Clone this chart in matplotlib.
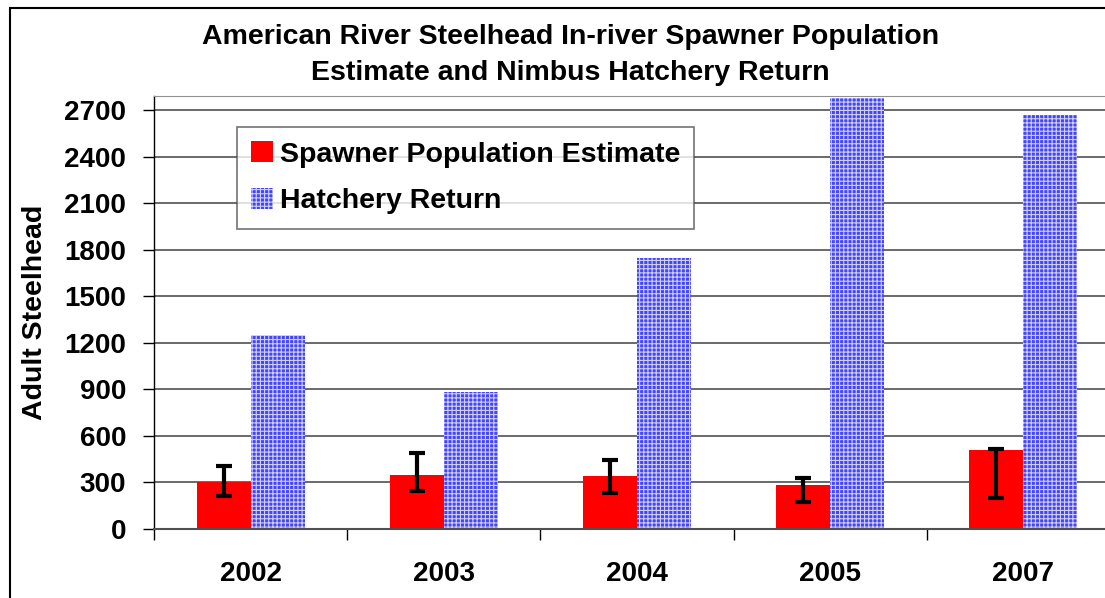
import numpy as np
import matplotlib
matplotlib.use("Agg")
import matplotlib.pyplot as plt
from matplotlib.patches import Rectangle

plt.rcParams['font.family'] = ['Liberation Sans', 'DejaVu Sans']
plt.rcParams['hatch.linewidth'] = 0.8

years = ["2002", "2003", "2004", "2005", "2007"]
spawner = [300, 345, 340, 283, 510]
spawner_low = [212, 244, 231, 174, 199]
spawner_high = [405, 488, 443, 328, 514]
hatchery = [1250, 880, 1745, 2775, 2670]
yticks = np.arange(0, 2701, 300)

x = np.arange(len(years))
w = 0.28
err = [np.array(spawner) - np.array(spawner_low), np.array(spawner_high) - np.array(spawner)]

fig = plt.figure(figsize=(11.05, 5.98), dpi=100)
ax = fig.add_axes([154/1105, 1 - 529/598, 5*193.2/1105, (529-96)/598])

ax.bar(x - w/2, spawner, w, color="red", edgecolor="none", zorder=2, label="Spawner Population Estimate")
ax.bar(x + w/2, hatchery, w, color="#4444f8", edgecolor="#d0d0ff", hatch="++++", linewidth=0, zorder=2, label="Hatchery Return")
ax.errorbar(x - w/2, spawner, yerr=err, fmt="none", ecolor="black", elinewidth=3, capsize=6, capthick=3, zorder=3)

ax.set_xlim(-0.5, len(years) - 0.5)
ax.set_ylim(0, 2790)
ax.set_yticks(yticks)
ax.set_yticklabels([str(v) for v in yticks], fontsize=20, fontweight="bold")
ax.set_xticks(x)
ax.set_xticklabels(years, fontsize=20, fontweight="bold")
ax.set_xticks(np.arange(-0.5, len(years)), minor=True)
ax.tick_params(axis="x", which="major", length=0, pad=23)
ax.tick_params(axis="x", which="minor", length=8, width=1, direction="out")
ax.tick_params(axis="y", length=8, width=1, pad=12)
ax.yaxis.grid(True, color="#505050", linewidth=1.2, zorder=0)
ax.set_axisbelow(True)
for s in ["top", "right"]:
    ax.spines[s].set_color("#909090")
ax.spines["left"].set_linewidth(1)
ax.spines["bottom"].set_color("#505050")
ax.spines["bottom"].set_linewidth(1.5)

ax.set_ylabel("Adult Steelhead", fontsize=20.5, fontweight="bold", labelpad=12)

leg = ax.legend(loc="upper left", bbox_to_anchor=(83/966, 1 - 31/433), frameon=True,
                fancybox=False, prop={"weight": "bold", "size": 20.5},
                handlelength=0.75, handleheight=0.75, handletextpad=0.25, borderpad=0.5,
                labelspacing=0.72, borderaxespad=0)
leg.get_frame().set_edgecolor("#505050")
leg.get_frame().set_linewidth(1.2)

fig.text(0.516, 1 - 37/598, "American River Steelhead In-river Spawner Population",
         ha="center", va="center", fontsize=20.5, fontweight="bold")
fig.text(0.516, 1 - 73/598, "Estimate and Nimbus Hatchery Return",
         ha="center", va="center", fontsize=20.5, fontweight="bold")

fig.patches.append(Rectangle((10/1105, -0.1), 1.2, 1 - 8/598 + 0.1, transform=fig.transFigure,
                             fill=False, edgecolor="black", linewidth=1.5))

fig.savefig("out.png", dpi=100)
